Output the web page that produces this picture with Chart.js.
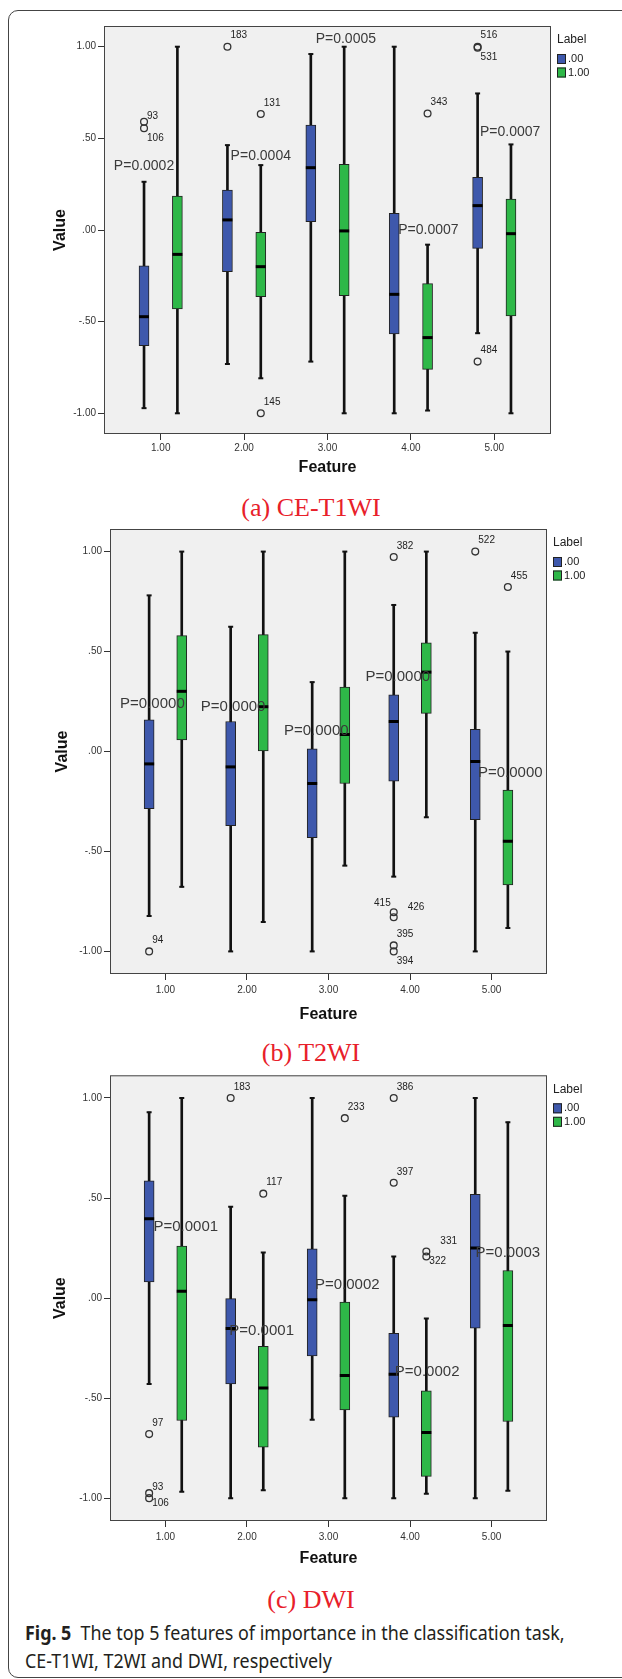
<!DOCTYPE html>
<html>
<head>
<meta charset="utf-8">
<script src="https://cdn.jsdelivr.net/npm/chart.js@4.4.1/dist/chart.umd.min.js"></script>
<style>
  html, body { margin: 0; padding: 0; background: #fff; }
  body { width: 622px; height: 1679px; position: relative; overflow: hidden; }
  .frame { position: absolute; left: 8px; top: 10px; width: 680px; height: 1666px; border: 1px solid #444; border-radius: 10px; }
  canvas { position: absolute; left: 0; }
  .cap { position: absolute; left: 0; width: 622px; text-align: center; font-family: "Liberation Serif", "Times New Roman", serif; font-size: 26px; line-height: 30px; color: #e8202a; }
  .fig { position: absolute; left: 25px; width: 700px; font-family: "Noto Sans", sans-serif; font-size: 19px; line-height: 28px; color: #231f20; white-space: nowrap; transform-origin: 0 50%; transform: scaleX(0.94); }
</style>
</head>
<body>
<div class="frame"></div>
<canvas id="chartA" width="622" height="484" style="top:0px"></canvas>
<div class="cap" style="top:493px">(a) CE-T1WI</div>
<canvas id="chartB" width="622" height="524" style="top:500px"></canvas>
<div class="cap" style="top:1038px">(b) T2WI</div>
<canvas id="chartC" width="622" height="525" style="top:1046px"></canvas>
<div class="cap" style="top:1585px">(c) DWI</div>
<div class="fig" style="top:1619px"><b>Fig. 5</b>&nbsp; The top 5 features of importance in the classification task,</div>
<div class="fig" style="top:1647px">CE-T1WI, T2WI and DWI, respectively</div>

<script>
// ---- shared axis data
const features = [1, 2, 3, 4, 5];
const xTickValues = [1, 2, 3, 4, 5];
const yTickValues = [-1, -0.5, 0, 0.5, 1];
const groupLabels = ['.00', '1.00'];
const groupColors = ['#3e58ac', '#2eb848'];

// ---- (a) CE-T1WI
const aBlueMin = [-0.972, -0.731, -0.718, -1.000, -0.563];
const aBlueQ1  = [-0.631, -0.227,  0.045, -0.567, -0.100];
const aBlueMed = [-0.473,  0.055,  0.340, -0.351,  0.133];
const aBlueQ3  = [-0.195,  0.218,  0.573,  0.091,  0.287];
const aBlueMax = [ 0.263,  0.463,  0.960,  1.000,  0.745];
const aGreenMin = [-1.000, -0.809, -1.000, -0.985, -1.000];
const aGreenQ1  = [-0.431, -0.364, -0.358, -0.760, -0.469];
const aGreenMed = [-0.133, -0.200, -0.005, -0.587, -0.020];
const aGreenQ3  = [ 0.185, -0.013,  0.358, -0.293,  0.169];
const aGreenMax = [ 1.000,  0.354,  1.000, -0.080,  0.467];
const aBlueOutFeature = [1, 1, 2, 5, 5, 5];
const aBlueOutValue   = [0.590, 0.555, 1.000, 1.000, 0.995, -0.718];
const aBlueOutId      = ['93', '106', '183', '516', '531', '484'];
const aGreenOutFeature = [2, 2, 4];
const aGreenOutValue   = [0.633, -1.000, 0.636];
const aGreenOutId      = ['131', '145', '343'];
const aPText = ['P=0.0002', 'P=0.0004', 'P=0.0005', 'P=0.0007', 'P=0.0007'];
const aPX = [0.80, 2.20, 3.22, 4.21, 5.19];
const aPY = [0.350, 0.405, 1.040, 0.000, 0.536];

// ---- (b) T2WI
const bBlueMin = [-0.823, -1.000, -1.000, -0.626, -1.000];
const bBlueQ1  = [-0.286, -0.371, -0.431, -0.148, -0.341];
const bBlueMed = [-0.062, -0.077, -0.160,  0.150, -0.050];
const bBlueQ3  = [ 0.158,  0.150,  0.013,  0.284,  0.111];
const bBlueMax = [ 0.781,  0.624,  0.347,  0.733,  0.594];
const bGreenMin = [-0.677, -0.853, -0.571, -0.329, -0.883];
const bGreenQ1  = [ 0.058,  0.000, -0.160,  0.191, -0.667];
const bGreenMed = [ 0.301,  0.224,  0.085,  0.397, -0.449];
const bGreenQ3  = [ 0.580,  0.585,  0.322,  0.544, -0.193];
const bGreenMax = [ 1.000,  1.000,  1.000,  1.000,  0.500];
const bBlueOutFeature = [1, 4, 4, 4, 4, 4, 5];
const bBlueOutValue   = [-1.000, 0.973, -0.804, -0.829, -0.970, -1.000, 1.000];
const bBlueOutId      = ['94', '382', '415', '426', '395', '394', '522'];
const bGreenOutFeature = [5];
const bGreenOutValue   = [0.823];
const bGreenOutId      = ['455'];
const bPText = ['P=0.0000', 'P=0.0000', 'P=0.0000', 'P=0.0000', 'P=0.0000'];
const bPX = [0.84, 1.83, 2.85, 3.85, 5.23];
const bPY = [0.240, 0.223, 0.101, 0.372, -0.108];

// ---- (c) DWI
const cBlueMin = [-0.429, -1.000, -0.607, -1.000, -1.000];
const cBlueQ1  = [ 0.081, -0.428, -0.288, -0.594, -0.150];
const cBlueMed = [ 0.397, -0.152, -0.008, -0.380,  0.250];
const cBlueQ3  = [ 0.586,  0.000,  0.246, -0.176,  0.519];
const cBlueMax = [ 0.929,  0.457,  1.000,  0.208,  1.000];
const cGreenMin = [-0.967, -0.960, -1.000, -0.977, -0.962];
const cGreenQ1  = [-0.611, -0.744, -0.558, -0.890, -0.616];
const cGreenMed = [ 0.035, -0.449, -0.386, -0.671, -0.137];
const cGreenQ3  = [ 0.260, -0.241, -0.020, -0.463,  0.138];
const cGreenMax = [ 1.000,  0.228,  0.511, -0.102,  0.879];
const cBlueOutFeature = [1, 1, 1, 2, 4, 4];
const cBlueOutValue   = [-0.679, -0.974, -0.999, 1.000, 1.000, 0.576];
const cBlueOutId      = ['97', '93', '106', '183', '386', '397'];
const cGreenOutFeature = [2, 3, 4, 4];
const cGreenOutValue   = [0.522, 0.899, 0.233, 0.208];
const cGreenOutId      = ['117', '233', '331', '322'];
const cPText = ['P=0.0001', 'P=0.0001', 'P=0.0002', 'P=0.0002', 'P=0.0003'];
const cPX = [1.25, 2.18, 3.23, 4.21, 5.20];
const cPY = [0.357, -0.162, 0.066, -0.370, 0.225];

// where case-number labels sit next to their circle (px)
const PLACE = {
  up:       { dx: 3,  dy: -11, align: 'left' },
  down:     { dx: 3,  dy: 10,  align: 'left' },
  upNear:   { dx: 3,  dy: -6,  align: 'left' },
  downNear: { dx: 3,  dy: 5,   align: 'left' },
  left:     { dx: -3, dy: -9,  align: 'right' },
  far:      { dx: 14, dy: -10, align: 'left' },
};
const aPlace = { '93': 'upNear', '106': 'down', '531': 'down' };
const bPlace = { '415': 'left', '426': 'far', '394': 'down' };
const cPlace = { '93': 'upNear', '106': 'downNear', '331': 'far', '322': 'downNear' };

const FONT = '"Liberation Sans", Arial, sans-serif';
Chart.defaults.font.family = FONT;
Chart.defaults.color = '#333';

function fmtTick(v) {
  let s = Math.abs(v).toFixed(2);
  if (s[0] === '0') s = s.slice(1);
  return (v < 0 ? '-' : '') + s;
}

function boxSets(offset, color, label, mins, q1s, meds, q3s, maxs, outF, outV, outId, place) {
  const xs = features.map(f => f + offset);
  return [
    { type: 'bar', data: xs.map((x, i) => ({ x, y: [mins[i], maxs[i]] })),
      backgroundColor: '#111', barThickness: 2, grouped: false, order: 5 },
    { type: 'bar', label, isBox: true, data: xs.map((x, i) => ({ x, y: [q1s[i], q3s[i]] })),
      backgroundColor: color, borderColor: '#222', borderWidth: 1, borderSkipped: false,
      barThickness: 10, grouped: false, order: 4 },
    { type: 'scatter', data: xs.flatMap((x, i) => [{ x, y: mins[i] }, { x, y: maxs[i] }]),
      pointStyle: 'line', pointRadius: 2.5, pointBorderColor: '#111', pointBorderWidth: 2, order: 2 },
    { type: 'scatter', data: xs.map((x, i) => ({ x, y: meds[i] })),
      pointStyle: 'line', pointRadius: 5, pointBorderColor: '#000', pointBorderWidth: 3, order: 1 },
    { type: 'scatter', ids: outId, place, data: outF.map((f, i) => ({ x: f + offset, y: outV[i] })),
      pointStyle: 'circle', pointRadius: 3.4, pointBorderColor: '#333',
      pointBackgroundColor: 'rgba(0,0,0,0)', pointBorderWidth: 1.3, order: 0 },
  ];
}

function decor(p) {
  return {
    id: 'decor',
    beforeDraw(chart) {
      const { ctx, chartArea: a } = chart;
      ctx.save();
      ctx.fillStyle = '#f0f0f0';
      ctx.fillRect(a.left, a.top, a.right - a.left, a.bottom - a.top);
      ctx.restore();
    },
    afterDatasetsDraw(chart) {
      const { ctx, chartArea: a, scales: { x, y } } = chart;
      ctx.save();
      // p-value notes
      ctx.fillStyle = '#3a3a3a';
      ctx.font = p.pFont + 'px ' + FONT;
      ctx.textAlign = 'center';
      ctx.textBaseline = 'middle';
      p.pText.forEach((t, i) => ctx.fillText(t, x.getPixelForValue(p.pX[i]), y.getPixelForValue(p.pY[i])));
      // case numbers next to the outlier circles
      ctx.font = '10px ' + FONT;
      ctx.fillStyle = '#222';
      chart.data.datasets.forEach((ds, di) => {
        if (!ds.ids) return;
        chart.getDatasetMeta(di).data.forEach((pt, j) => {
          const pl = PLACE[ds.place[ds.ids[j]] || 'up'];
          ctx.textAlign = pl.align;
          ctx.fillText(ds.ids[j], pt.x + pl.dx, pt.y + pl.dy);
        });
      });
      // plot frame
      ctx.strokeStyle = '#444';
      ctx.lineWidth = 1;
      ctx.strokeRect(a.left + 0.5, a.top + 0.5, a.right - a.left - 1, a.bottom - a.top - 1);
      ctx.restore();
    },
    afterDraw(chart) {
      const { ctx, chartArea: a } = chart;
      const lx = a.right + 6;
      ctx.save();
      ctx.textAlign = 'left';
      ctx.textBaseline = 'middle';
      ctx.fillStyle = '#222';
      ctx.font = '12px ' + FONT;
      ctx.fillText('Label', lx, a.top + 14);
      const boxes = chart.data.datasets.filter(d => d.isBox);
      boxes.forEach((d, i) => {
        const cy = a.top + 33 + i * 13.5;
        ctx.fillStyle = d.backgroundColor;
        ctx.fillRect(lx, cy - 5, 9, 10);
        ctx.strokeStyle = '#222';
        ctx.strokeRect(lx + 0.5, cy - 4.5, 8, 9);
        ctx.fillStyle = '#222';
        ctx.font = '11px ' + FONT;
        ctx.fillText(d.label, lx + 11, cy);
      });
      ctx.restore();
    }
  };
}

function makePanel(id, p) {
  const datasets = [
    ...boxSets(-0.2, groupColors[0], groupLabels[0], p.blue[0], p.blue[1], p.blue[2], p.blue[3], p.blue[4],
               p.blueOut[0], p.blueOut[1], p.blueOut[2], p.place),
    ...boxSets(0.2, groupColors[1], groupLabels[1], p.green[0], p.green[1], p.green[2], p.green[3], p.green[4],
               p.greenOut[0], p.greenOut[1], p.greenOut[2], p.place),
  ];
  return new Chart(document.getElementById(id), {
    type: 'scatter',
    data: { datasets },
    options: {
      responsive: false,
      animation: false,
      devicePixelRatio: 1,
      events: [],
      layout: { padding: { left: 0, top: p.padTop, right: p.padRight, bottom: 0 } },
      plugins: { legend: { display: false }, tooltip: { enabled: false } },
      scales: {
        x: {
          type: 'linear', min: 0.32, max: 5.68, offset: false,
          afterBuildTicks: s => { s.ticks = xTickValues.map(v => ({ value: v })); },
          afterFit: s => { s.height = 50; },
          ticks: { callback: v => v.toFixed(2), font: { size: 10 }, padding: p.xTickPad, maxRotation: 0, autoSkip: false },
          grid: { drawOnChartArea: false, drawTicks: true, tickLength: 6, color: '#333', offset: false },
          border: { display: false },
          title: { display: true, text: 'Feature', color: '#111', font: { size: 16, weight: 'bold' },
                   padding: { top: 0, bottom: p.xTitlePad } }
        },
        y: {
          type: 'linear', min: -1.113, max: 1.113,
          afterBuildTicks: s => { s.ticks = yTickValues.map(v => ({ value: v })); },
          afterFit: s => { s.width = p.yWidth; },
          ticks: { callback: v => fmtTick(v), font: { size: 10 }, padding: 2 },
          grid: { drawOnChartArea: false, drawTicks: true, tickLength: 6, color: '#333' },
          border: { display: false },
          title: { display: true, text: 'Value', color: '#111', font: { size: 16, weight: 'bold' },
                   padding: { top: p.yTitlePad, bottom: 0 } }
        }
      }
    },
    plugins: [decor(p)]
  });
}

makePanel('chartA', {
  blue: [aBlueMin, aBlueQ1, aBlueMed, aBlueQ3, aBlueMax],
  green: [aGreenMin, aGreenQ1, aGreenMed, aGreenQ3, aGreenMax],
  blueOut: [aBlueOutFeature, aBlueOutValue, aBlueOutId],
  greenOut: [aGreenOutFeature, aGreenOutValue, aGreenOutId],
  place: aPlace, pText: aPText, pX: aPX, pY: aPY, pFont: 14,
  padTop: 26, padRight: 71, yWidth: 104, yTitlePad: 50.7, xTitlePad: 6.4, xTickPad: 2
});
makePanel('chartB', {
  blue: [bBlueMin, bBlueQ1, bBlueMed, bBlueQ3, bBlueMax],
  green: [bGreenMin, bGreenQ1, bGreenMed, bGreenQ3, bGreenMax],
  blueOut: [bBlueOutFeature, bBlueOutValue, bBlueOutId],
  greenOut: [bGreenOutFeature, bGreenOutValue, bGreenOutId],
  place: bPlace, pText: bPText, pX: bPX, pY: bPY, pFont: 15,
  padTop: 29, padRight: 75, yWidth: 110, yTitlePad: 52.7, xTitlePad: 0, xTickPad: 4
});
makePanel('chartC', {
  blue: [cBlueMin, cBlueQ1, cBlueMed, cBlueQ3, cBlueMax],
  green: [cGreenMin, cGreenQ1, cGreenMed, cGreenQ3, cGreenMax],
  blueOut: [cBlueOutFeature, cBlueOutValue, cBlueOutId],
  greenOut: [cGreenOutFeature, cGreenOutValue, cGreenOutId],
  place: cPlace, pText: cPText, pX: cPX, pY: cPY, pFont: 15,
  padTop: 29.3, padRight: 75, yWidth: 110, yTitlePad: 51, xTitlePad: 2.4, xTickPad: 4
});
</script>
</body>
</html>
